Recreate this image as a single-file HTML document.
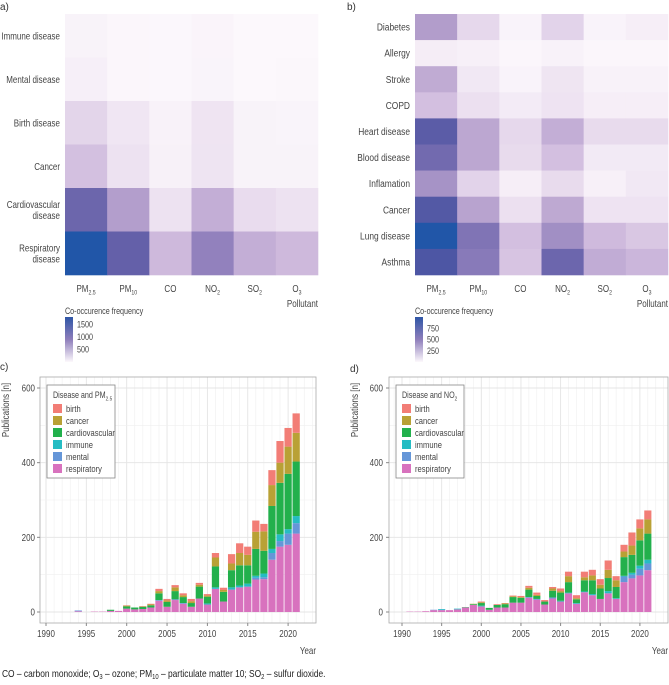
<!DOCTYPE html>
<html><head><meta charset="utf-8">
<style>
html,body{margin:0;padding:0;background:#fff;}
svg{display:block;font-family:"Liberation Sans",sans-serif;}
</style></head>
<body>
<svg id="fig" width="669" height="685" viewBox="0 0 669 685" xmlns="http://www.w3.org/2000/svg">
<text x="0" y="10" font-size="10" fill="#333">a)</text>
<text x="347" y="10" font-size="10" fill="#333">b)</text>
<text x="0" y="370" font-size="10" fill="#333">c)</text>
<text x="350" y="372" font-size="10" fill="#333">d)</text>
<text transform="translate(2,677) scale(0.84,1)" font-size="10" fill="#222">CO – carbon monoxide; O<tspan font-size="7" dy="2">3</tspan><tspan dy="-2"> – ozone; PM</tspan><tspan font-size="7" dy="2">10</tspan><tspan dy="-2"> – particulate matter 10; SO</tspan><tspan font-size="7" dy="2">2</tspan><tspan dy="-2"> – sulfur dioxide.</tspan></text>
<defs>
<linearGradient id="cbar" x1="0" y1="0" x2="0" y2="1">
<stop offset="0" stop-color="#2f56a6"/><stop offset="0.5" stop-color="#8e7ebb"/><stop offset="1" stop-color="#fcf8fc"/>
</linearGradient>
</defs>
<g id="root"></g>
</svg>
<script>
// ---------- heatmap data ----------
const pollutants = ["PM2.5","PM10","CO","NO2","SO2","O3"];
const diseasesA = ["Immune disease","Mental disease","Birth disease","Cancer","Cardiovascular disease","Respiratory disease"];
const valuesA = [
 [60,20,10,40,0,5],
 [100,20,10,50,5,15],
 [350,200,70,220,60,50],
 [500,250,80,230,60,60],
 [1300,800,250,650,300,250],
 [1800,1350,550,1050,650,550]
];
const colorbarTicksA = [1500,1000,500];
const diseasesB = ["Diabetes","Allergy","Stroke","COPD","Heart disease","Blood disease","Inflamation","Cancer","Lung disease","Asthma"];
const valuesB = [
 [450,180,30,200,30,60],
 [70,50,10,40,10,10],
 [380,100,30,120,40,40],
 [280,150,80,130,60,60],
 [800,400,180,360,170,170],
 [700,400,170,280,90,90],
 [500,200,60,170,50,100],
 [850,420,150,390,130,130],
 [1000,650,280,520,300,250],
 [880,620,260,720,370,320]
];
const colorbarTicksB = [750,500,250];

// ---------- bar chart data ----------
const years = [];
for (let y=1990;y<=2021;y++) years.push(y);
const seriesNames = ["respiratory","mental","immune","cardiovascular","cancer","birth"];
const legendOrder = ["birth","cancer","cardiovascular","immune","mental","respiratory"];
const xTickYears = [1990,1995,2000,2005,2010,2015,2020];
const yTicks = [0,200,400,600];
// PM2.5 (panel c), per year 1990..2021
const pmRespiratory   = [0,0,0,0,2,0,1,1,3,3,9,7,8,12,30,14,32,22,14,36,20,62,28,60,66,68,87,88,140,175,180,210];
const pmMental        = [0,0,0,0,2,0,0,0,0,0,0,0,0,0,2,0,2,2,0,0,0,0,0,0,0,0,5,5,18,15,30,28];
const pmImmune        = [0,0,0,0,0,0,0,0,0,0,0,0,0,0,0,0,0,0,0,0,3,4,0,6,5,8,5,10,11,18,12,19];
const pmCardio        = [0,0,0,0,0,0,0,0,3,0,6,5,6,6,18,13,22,16,10,32,18,56,26,46,54,49,72,61,115,138,148,146];
const pmCancer        = [0,0,0,0,0,0,0,0,0,0,2,0,1,2,6,4,10,5,5,5,3,24,5,18,33,28,46,52,56,54,73,77];
const pmBirth         = [0,0,0,0,0,0,0,0,0,0,1,0,1,2,6,4,6,5,6,5,4,12,6,25,26,22,30,20,40,58,50,52];
// NO2 (panel d)
const no2Respiratory  = [0,1,1,2,5,5,5,7,12,19,15,6,12,12,25,25,38,33,20,36,28,50,22,53,45,35,50,35,80,90,98,112];
const no2Mental       = [0,0,0,0,1,1,0,0,0,0,0,0,0,0,0,0,2,2,0,3,0,0,0,0,0,0,0,0,15,10,18,18];
const no2Immune       = [0,0,0,0,0,2,0,2,0,0,2,0,0,0,0,0,0,0,0,0,2,2,2,2,3,0,6,2,2,5,8,10];
const no2Cardio       = [0,0,0,0,0,0,0,0,1,2,7,5,7,9,15,13,20,8,8,18,22,28,10,30,37,28,35,30,50,48,68,70];
const no2Cancer       = [0,0,0,0,0,0,0,0,0,1,2,0,0,2,2,2,5,3,0,6,4,16,3,8,13,10,22,18,15,25,32,38];
const no2Birth        = [0,0,0,0,0,0,0,0,0,0,2,0,2,1,2,3,5,6,4,4,7,12,8,15,15,15,25,11,18,35,24,24];

const colors = {birth:"#f27d76",cancer:"#b9a135",cardiovascular:"#22b04c",immune:"#25bcc3",mental:"#6596d8",respiratory:"#d872be"};
const NS="http://www.w3.org/2000/svg";
const root=document.getElementById('root');
function el(tag,attrs,parent){const e=document.createElementNS(NS,tag);for(const k in attrs)e.setAttribute(k,attrs[k]);(parent||root).appendChild(e);return e;}

const stops=[[0,[252,248,252]],[0.15,[236,224,240]],[0.3,[207,186,221]],[0.45,[178,157,203]],[0.6,[142,126,187]],[0.75,[100,96,169]],[0.9,[74,85,163]],[1,[33,86,168]]];
function colorScale(t){t=Math.max(0,Math.min(1,t));for(let i=1;i<stops.length;i++){if(t<=stops[i][0]){const a=stops[i-1],b=stops[i];const f=(t-a[0])/(b[0]-a[0]);const c=a[1].map((v,j)=>Math.round(v+(b[1][j]-v)*f));return `rgb(${c[0]},${c[1]},${c[2]})`;}}return "rgb(33,86,168)";}

function labelText(parent,x,y,txt,anchor,size,name,rot){
  const t=el('text',{'font-size':size,fill:'#444','text-anchor':anchor,transform:`translate(${x},${y})${rot?' rotate(-90)':''} scale(0.8,1)`},parent);
  
  
  const m=txt.match(/^(.*?[A-Z])(2\.5|10|2|3)$/);
  if(m){
    const a=document.createElementNS(NS,'tspan');a.textContent=m[1];t.appendChild(a);
    const b=document.createElementNS(NS,'tspan');b.setAttribute('font-size',size*0.65);b.setAttribute('dy',2.5);b.textContent=m[2];t.appendChild(b);
  } else t.textContent=txt;
  return t;
}

function heatmap(name,x0,x1,y0,y1,rows,vals,vmax,ticks,labelSize){
  const g=el('g',{});
  
  
  const cw=(x1-x0)/pollutants.length, rh=(y1-y0)/rows.length;
  rows.forEach((r,i)=>{
    pollutants.forEach((p,j)=>{
      const c=el('rect',{x:x0+j*cw,y:y0+i*rh,width:cw+0.3,height:rh+0.3,fill:colorScale(vals[i][j]/vmax)},g);
      
      
    });
    const cy=y0+(i+0.5)*rh;
    if(r==="Cardiovascular disease"||r==="Respiratory disease"){
      const parts=r.split(' ');
      labelText(g,x0-5,cy-2,parts[0],'end',labelSize,'row-label');
      labelText(g,x0-5,cy+9,parts[1],'end',labelSize,'row-label');
    } else labelText(g,x0-5,cy+3.5,r,'end',labelSize,'row-label');
  });
  pollutants.forEach((p,j)=>{labelText(g,x0+(j+0.5)*cw,292,p,'middle',10,'column-label');});
  labelText(g,x1,307,'Pollutant','end',10,'x-axis-title');
  labelText(g,x0,314,'Co-occurence frequency','start',9,'legend-title');
  const top=317,bot=362;
  const cb=el('rect',{x:x0,y:top,width:8,height:bot-top,fill:'url(#cbar)'},g);
  
  
  ticks.forEach(v=>{const y=top+(1-v/vmax)*(bot-top);labelText(g,x0+12,y+3,String(v),'start',9,'colorbar-tick');});
}
heatmap('heatmap-a',65,318,14,275,diseasesA,valuesA,1800,colorbarTicksA,10);
heatmap('heatmap-b',415,668,14,275,diseasesB,valuesB,1000,colorbarTicksB,10.5);

function barChart(name,px0,px1,x1990,perYear,data,legendTitle,yLabelX,yTitleX){
  const py0=377,py1=623,yZero=612,yScale=(612-388)/600;
  const Y=v=>yZero-v*yScale, X=y=>x1990+(y-1990)*perYear;
  const g=el('g',{});
  
  
  el('rect',{x:px0,y:py0,width:px1-px0,height:py1-py0,fill:'#fff'},g);
  for(let yr=1987;yr<=2025;yr++){const x=X(yr);if(x<=px0||x>=px1)continue;el('line',{x1:x,x2:x,y1:py0,y2:py1,stroke:yr%5===0?'#e4e4e4':'#efefef','stroke-width':yr%5===0?0.9:0.6},g);}
  for(let v=0;v<=600;v+=100){el('line',{x1:px0,x2:px1,y1:Y(v),y2:Y(v),stroke:v%200===0?'#e4e4e4':'#efefef','stroke-width':v%200===0?0.9:0.6},g);}
  years.forEach((yr,i)=>{
    let acc=0;
    seriesNames.forEach(s=>{
      const v=data[s][i]; if(!v) return;
      const r=el('rect',{x:X(yr)-perYear*0.45,y:Y(acc+v),width:perYear*0.9,height:v*yScale,fill:colors[s]},g);
      
      
      acc+=v;
    });
  });
  const frame=el('rect',{x:px0,y:py0,width:px1-px0,height:py1-py0,fill:'none',stroke:'#aaa','stroke-width':0.8},g);
  
  
  yTicks.forEach(v=>{el('line',{x1:px0-3,x2:px0,y1:Y(v),y2:Y(v),stroke:'#888'},g);labelText(g,yLabelX,Y(v)+3.5,String(v),'end',10,'y-tick-label');});
  xTickYears.forEach(yr=>{el('line',{x1:X(yr),x2:X(yr),y1:py1,y2:py1+3,stroke:'#888'},g);labelText(g,X(yr),637,String(yr),'middle',10,'x-tick-label');});
  labelText(g,px1,654,'Year','end',10,'x-axis-title');
  labelText(g,yTitleX,410,'Publications [n]','middle',10,'y-axis-title',true);
  const lx=px0+7, ly=385;
  const lg=el('g',{},g);
  
  
  el('rect',{x:lx,y:ly,width:68,height:93,fill:'#fff',stroke:'#888','stroke-width':0.8},lg);
  labelText(lg,lx+6,ly+13,legendTitle,'start',9,'legend-title');
  legendOrder.forEach((s,i)=>{
    const yy=ly+19+i*12;
    const k=el('rect',{x:lx+6,y:yy,width:9,height:9,fill:colors[s]},lg);
    
    
    labelText(lg,lx+19,yy+8,s,'start',9.5,'legend-entry');
  });
}
barChart('bar-chart-pm25',40,316,46,8.07,{respiratory:pmRespiratory,mental:pmMental,immune:pmImmune,cardiovascular:pmCardio,cancer:pmCancer,birth:pmBirth},'Disease and PM2.5',35,9);
barChart('bar-chart-no2',389,668,402,7.93,{respiratory:no2Respiratory,mental:no2Mental,immune:no2Immune,cardiovascular:no2Cardio,cancer:no2Cancer,birth:no2Birth},'Disease and NO2',383,358);
</script>
</body></html>
